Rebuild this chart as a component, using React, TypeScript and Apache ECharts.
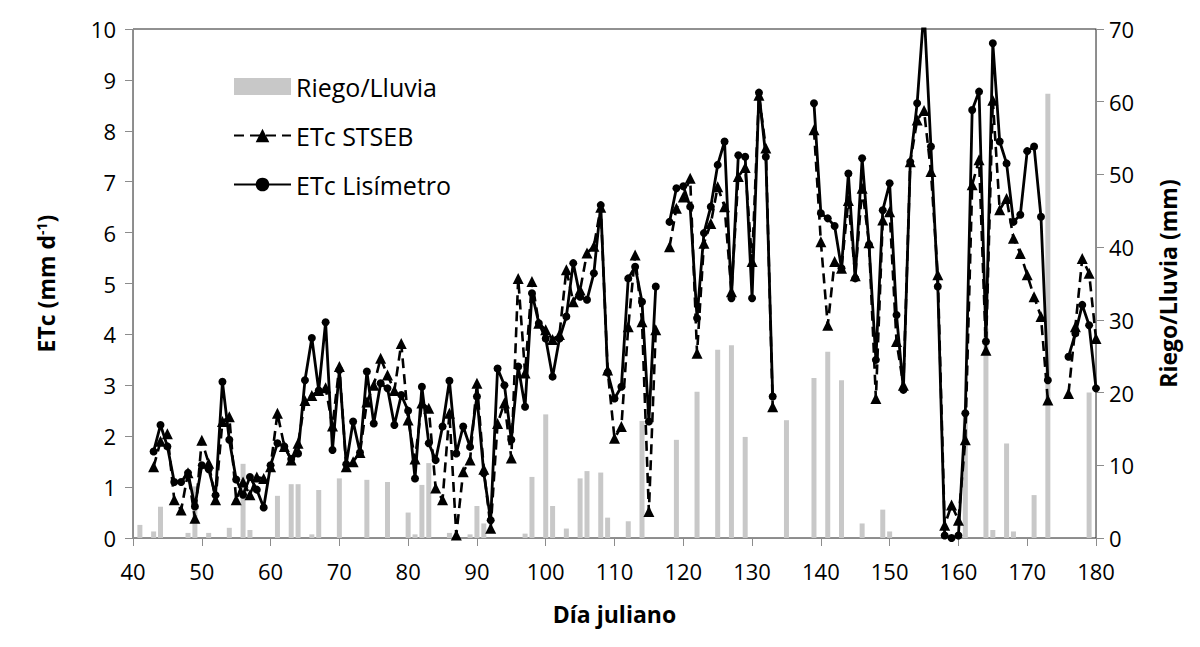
import React, { useEffect, useRef } from "react";
import * as echarts from "echarts";

// First Julian day of the daily ETc series
const firstDay = 43;

// ETc Lisímetro (mm d-1), days 43..180 (null = no data)
const lisimetro: (number | null)[] = [
  1.70, 2.22, 1.80, 1.10, 1.10, 1.28, 0.62, 1.43, 1.35, 0.84, // 43-52
  3.07, 1.93, 1.15, 0.85, 1.20, 0.95, 0.60, 1.43, 1.86, 1.80, // 53-62
  1.55, 1.66, 3.10, 3.93, 2.90, 4.24, 1.73, 3.30, 1.45, 2.29, // 63-72
  1.68, 3.27, 2.25, 3.04, 2.94, 2.22, 2.81, 2.50, 1.17, 2.97, // 73-82
  1.86, 1.53, 2.19, 3.09, 1.66, 2.19, 1.79, 2.78, 1.27, 0.35, // 83-92
  3.33, 3.00, 1.93, 3.37, 2.58, 4.81, 4.22, 3.92, 3.17, 3.92, // 93-102
  4.35, 5.40, 4.74, 4.68, 5.20, 6.54, 3.25, 2.74, 2.97, 5.10, // 103-112
  5.33, 4.64, 2.29, 4.94, null, 6.21, 6.87, 6.91, 6.51, 4.32, // 113-122
  5.99, 6.51, 7.33, 7.79, 4.71, 7.52, 7.49, 4.71, 8.75, 7.49, // 123-132
  2.78, null, null, null, null, null, 8.54, 6.38, 6.28, 6.13, // 133-142
  5.30, 7.16, 5.10, 7.46, 5.76, 3.50, 6.44, 6.97, 4.38, 2.91, // 143-152
  7.39, 8.54, 10.4, 7.69, 4.94, 0.05, 0.00, 0.05, 2.45, 8.41, // 153-162
  8.77, 3.86, 9.72, 7.79, 7.36, 6.21, 6.35, 7.60, 7.69, 6.31, // 163-172
  3.10, null, null, 3.56, 4.02, 4.58, 4.18, 2.94,             // 173-180
];

// ETc STSEB (mm d-1), days 43..180
const stseb: (number | null)[] = [
  1.40, 1.90, 2.05, 0.75, 0.55, 1.28, 0.39, 1.92, 1.47, 0.75, // 43-52
  2.29, 2.38, 0.75, 1.10, 0.85, 1.20, 1.17, 1.40, 2.45, 1.80, // 53-62
  1.53, 1.86, 2.70, 2.80, 2.90, 2.95, 2.20, 3.37, 1.40, 1.50, // 63-72
  1.68, 2.67, 3.00, 3.53, 3.20, 2.90, 3.82, 2.32, 1.55, 2.65, // 73-82
  2.55, 0.98, 0.75, 2.45, 0.06, 1.30, 1.53, 3.04, 1.35, 0.19, // 83-92
  2.25, 2.65, 1.57, 5.10, 3.24, 5.04, 4.22, 4.09, 3.90, 4.00, // 93-102
  5.27, 4.64, 4.87, 5.60, 5.73, 6.50, 3.30, 1.96, 2.19, 4.15, // 103-112
  5.56, 4.25, 0.52, 4.09, null, 5.72, 6.48, 6.70, 7.07, 3.63, // 113-122
  5.79, 6.18, 6.90, 6.51, 4.84, 7.10, 7.28, 5.43, 8.70, 7.66, // 123-132
  2.58, null, null, null, null, null, 8.02, 5.82, 4.18, 5.43, // 133-142
  5.30, 6.63, 5.15, 6.87, 5.80, 2.74, 6.25, 6.41, 3.86, 3.00, // 143-152
  7.39, 8.21, 8.40, 7.20, 5.17, 0.25, 0.65, 0.35, 1.93, 6.94, // 153-162
  7.43, 3.69, 8.60, 6.45, 6.67, 5.89, 5.59, 5.17, 4.74, 4.35, // 163-172
  2.71, null, null, 2.84, 4.15, 5.49, 5.20, 3.92,             // 173-180
];

// Riego/Lluvia (mm): days and amounts
const riegoDia = [
  41, 43, 44, 48, 49, 51, 54, 56, 57, 61, 63, 64, 66, 67, 70, 74, 77, 80, 81, 82,
  83, 86, 89, 90, 91, 97, 98, 100, 101, 103, 105, 106, 108, 109, 112, 114, 119, 122, 125, 127,
  129, 135, 139, 141, 143, 146, 149, 150, 161, 164, 165, 167, 168, 171, 173, 179,
];
const riegoMm = [
  1.8, 0.9, 4.3, 0.7, 7.1, 0.7, 1.4, 10.2, 1.1, 5.8, 7.4, 7.4, 0.5, 6.6, 8.2, 8.0, 7.7, 3.5, 0.5, 7.3,
  10.3, 0.7, 0.5, 4.4, 2.0, 0.6, 8.4, 17.0, 4.4, 1.3, 8.2, 9.2, 9.0, 2.8, 2.3, 16.1, 13.5, 20.1, 25.9, 26.5,
  13.9, 16.2, 22.0, 25.6, 21.7, 2.0, 3.9, 0.9, 17.0, 28.8, 1.1, 13.0, 0.9, 5.9, 61.1, 20.0,
];

const FONT = "'Open Sans', 'Liberation Sans', sans-serif";

export default function App() {
  const ref = useRef<HTMLDivElement>(null);

  useEffect(() => {
    if (!ref.current) return;
    const chart = echarts.init(ref.current, null, { renderer: "svg" });

    const toPairs = (arr: (number | null)[]) =>
      arr.map((v, i) => [firstDay + i, v === null ? "-" : v]);
    const barData = riegoDia.map((d, i) => [d, riegoMm[i]]);

    const axisLine = { show: true, lineStyle: { color: "#8c8c8c", width: 1 } };
    const axisTick = { show: true, inside: false, length: 8, lineStyle: { color: "#8c8c8c" } };
    const labelStyle = { color: "#000", fontSize: 22, fontFamily: FONT };
    const titleStyle = { color: "#000", fontSize: 23, fontWeight: "bold", fontFamily: FONT };

    chart.setOption({
      animation: false,
      backgroundColor: "#fff",
      textStyle: { fontFamily: FONT },
      grid: {
        left: 133,
        right: 104,
        top: 29,
        bottom: 109,
        show: true,
        borderColor: "#222",
        borderWidth: 1,
        backgroundColor: "transparent",
      },
      legend: {
        orient: "vertical",
        left: 233,
        top: 74,
        padding: 0,
        itemWidth: 57,
        itemHeight: 17,
        itemGap: 24,
        textStyle: { color: "#000", fontSize: 25, fontFamily: FONT },
        data: [
          { name: "Riego/Lluvia", icon: "rect" },
          { name: "ETc STSEB" },
          { name: "ETc Lisímetro" },
        ],
      },
      xAxis: {
        type: "value",
        min: 40,
        max: 180,
        interval: 10,
        name: "Día juliano",
        nameLocation: "middle",
        nameGap: 64,
        nameTextStyle: titleStyle,
        axisLine,
        axisTick,
        splitLine: { show: false },
        axisLabel: { ...labelStyle, margin: 22 },
      },
      yAxis: [
        {
          type: "value",
          min: 0,
          max: 10,
          interval: 1,
          position: "left",
          name: "ETc (mm d{sup|-1})",
          nameLocation: "middle",
          nameGap: 75,
          nameTextStyle: {
            ...titleStyle,
            rich: {
              sup: { fontSize: 14, fontWeight: "bold", fontFamily: FONT, color: "#000", verticalAlign: "top", padding: [0, 0, 10, 0] },
            },
          },
          axisLine,
          axisTick,
          splitLine: { show: false },
          axisLabel: { ...labelStyle, margin: 17 },
        },
        {
          type: "value",
          min: 0,
          max: 70,
          interval: 10,
          position: "right",
          name: "Riego/Lluvia (mm)",
          nameLocation: "middle",
          nameGap: 60,
          nameTextStyle: titleStyle,
          axisLine,
          axisTick,
          splitLine: { show: false },
          axisLabel: { ...labelStyle, margin: 13 },
        },
      ],
      series: [
        {
          name: "Riego/Lluvia",
          type: "bar",
          yAxisIndex: 1,
          barWidth: 5,
          itemStyle: { color: "#c8c8c8" },
          data: barData,
          z: 1,
        },
        {
          name: "ETc STSEB",
          type: "line",
          yAxisIndex: 0,
          symbol: "triangle",
          symbolSize: 11,
          clip: true,
          connectNulls: false,
          lineStyle: { color: "#000", width: 2.6, type: [10, 6] },
          itemStyle: { color: "#000" },
          data: toPairs(stseb),
          z: 3,
        },
        {
          name: "ETc Lisímetro",
          type: "line",
          yAxisIndex: 0,
          symbol: "circle",
          symbolSize: 8,
          clip: true,
          connectNulls: false,
          lineStyle: { color: "#000", width: 2.8, type: "solid" },
          itemStyle: { color: "#000" },
          data: toPairs(lisimetro),
          z: 4,
        },
      ],
    });

    return () => chart.dispose();
  }, []);

  return (
    <div
      ref={ref}
      style={{ position: "absolute", left: 0, top: 0, width: 1200, height: 647, background: "#fff" }}
    />
  );
}
